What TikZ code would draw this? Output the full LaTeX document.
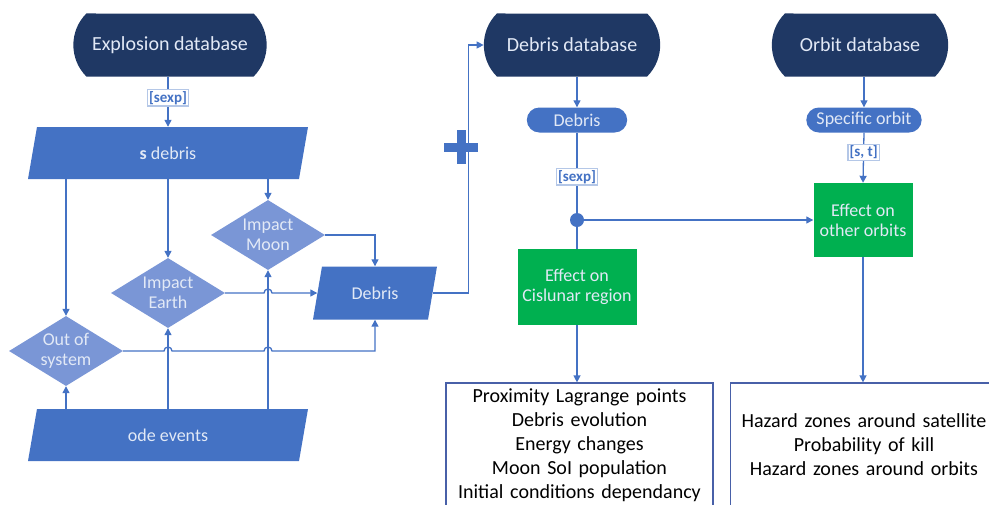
\documentclass[tikz,border=0pt]{standalone}
\usepackage{fontspec}
\setmainfont{Carlito}
\usepackage{xcolor}
\usepackage{tikz}
\usetikzlibrary{shapes,arrows.meta,positioning,calc}

\definecolor{navy}{RGB}{31,56,100}
\definecolor{midblue}{RGB}{68,114,196}
\definecolor{lightblue}{RGB}{122,150,214}
\definecolor{flowgreen}{RGB}{0,176,80}
\definecolor{paletext}{RGB}{226,233,246}
\definecolor{lblframe}{RGB}{180,199,231}
\definecolor{boxframe}{RGB}{72,96,168}

\begin{document}
\begin{tikzpicture}[
        x=1pt, y=-1pt,
        every node/.style={font=\fontsize{18}{20}\selectfont, text=paletext},
        db/.style={rounded rectangle, rounded rectangle arc length=90, fill=navy, minimum width=183pt, minimum height=63pt, font=\fontsize{20}{24}\selectfont},
        pill/.style={rounded rectangle, fill=midblue, minimum height=25pt, inner ysep=0pt},
        para/.style={trapezium, trapezium left angle=65, trapezium right angle=115, trapezium stretches body, fill=midblue, minimum height=52pt},
        decision/.style={diamond, aspect=1.6, inner sep=0pt, fill=lightblue, minimum width=114pt, minimum height=70pt, align=center},
        effect/.style={rectangle, fill=flowgreen, align=center},
        lbl/.style={rectangle, draw=lblframe, fill=white, text=midblue, font=\fontsize{15}{18}\bfseries\selectfont, inner sep=1.5pt},
        result/.style={rectangle, draw=boxframe, line width=1.2pt, text=black, text width=260pt, minimum width=267pt, minimum height=124pt, align=center, font=\fontsize{20}{24}\selectfont},
        link/.style={draw=midblue, line width=1.3pt},
        ->, >={Triangle[length=7pt, width=7pt]}
      ]
      \clip (0,0) rectangle (989,504);

      % explosion side
      \node (explosion) [db, minimum width=200pt] at (170,45) {Explosion database};
      \node (sdebris) [para, minimum width=280pt] at (168,153) {\textbf{s} debris};
      \node (moon) [decision] at (268,235) {Impact\\Moon};
      \node (earth) [decision] at (168,293) {Impact\\Earth};
      \node (outsys) [decision] at (66,351) {Out of\\system};
      \node (debris) [para, minimum width=124pt, minimum height=53pt] at (375,293) {Debris};
      \node (ode) [para, minimum width=280pt] at (168,435) {ode events};

      % databases and effects
      \node (debrisdb) [db] at (572,45) {Debris database};
      \node (orbitdb) [db] at (860,45) {Orbit database};
      \node (debrispill) [pill, minimum width=107pt] at (577,120) {Debris};
      \node (orbitpill) [pill, minimum width=122pt] at (864,120) {Specific orbit};
      \node (split) [circle, fill=midblue, inner sep=0pt, minimum size=14pt] at (577,220) {};
      \node (cislunar) [effect, minimum width=119pt, minimum height=76pt] at (577,287) {Effect on\\Cislunar region};
      \node (otherorb) [effect, minimum width=99pt, minimum height=74pt] at (863,220) {Effect on\\other orbits};
      \node (cisres) [result] at (579.5,445) {Proximity Lagrange points\\Debris evolution\\Energy changes\\Moon SoI population\\Initial conditions dependancy};
      \node (orbres) [result] at (864,445) {Hazard zones around satellite\\Probability of kill\\Hazard zones around orbits};

      \draw [link] (explosion.south -| sdebris.north) -- node[lbl, pos=0.42] {[sexp]} (sdebris.north);
      \draw [link] (sdebris.south -| outsys) -- (outsys.north);
      \draw [link] (sdebris.south -| earth) -- (earth.north);
      \draw [link] (sdebris.south -| moon) -- (moon.north);
      \draw [link] (ode.north -| outsys) -- (outsys.south);
      \draw [link] (ode.north -| earth) -- (earth.south);
      \draw [link] (ode.north -| moon) -- (moon.south);

      \draw [link] (moon.east) -| (debris.north);
      % hops over the vertical lines
      \draw [link] (earth.east) -- ($(earth.east -| moon)+(-4,0)$) arc[start angle=180, end angle=360, radius=4] -- (debris.west);
      \draw [link] (outsys.east) -- ($(outsys.east -| earth)+(-4,0)$) arc[start angle=180, end angle=360, radius=4]
        -- ($(outsys.east -| moon)+(-4,0)$) arc[start angle=180, end angle=360, radius=4] -| (debris.south);

      \draw [link] (debris.east) -- ++(36,0) |- (debrisdb.west);
      \draw [-, midblue, line width=9pt] (461,130) -- (461,164) (444,147) -- (478,147);

      \draw [link] (debrisdb.south -| debrispill) -- (debrispill.north);
      \draw [link] (orbitdb.south -| orbitpill) -- (orbitpill.north);
      \draw [link, -] (debrispill.south) -- node[lbl, pos=0.55] {[sexp]} (split.north);
      \draw [link] (orbitpill.south) -- node[lbl, pos=0.39] {[s, t]} (otherorb.north);
      \draw [link, -] (split) -- (cislunar.north);
      \draw [link] (split.east) -- (otherorb.west);
      \draw [link] (cislunar.south) -- (cisres.north -| cislunar);
      \draw [link] (otherorb.south) -- (orbres.north -| otherorb);

    \end{tikzpicture}
\end{document}
